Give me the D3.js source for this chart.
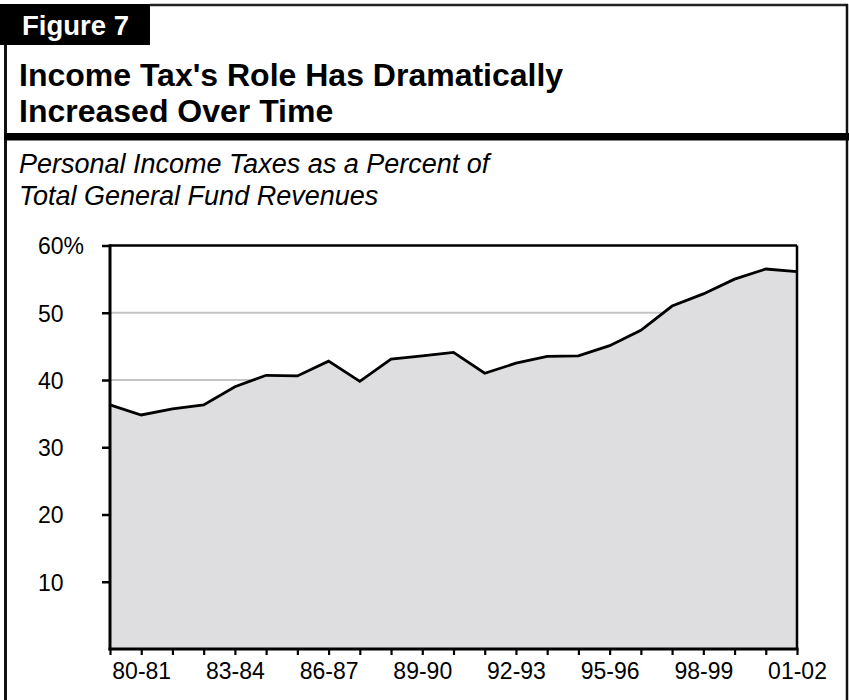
<!DOCTYPE html>
<html>
<head>
<meta charset="utf-8">
<script src="https://cdn.jsdelivr.net/npm/d3@7"></script>
<style>
  html, body { margin: 0; padding: 0; background: #fff; }
  svg { display: block; font-family: "Liberation Sans", Arial, Helvetica, sans-serif; }
</style>
</head>
<body>
<svg id="chart" width="849" height="700"></svg>
<script>
// Fiscal years, 1979-80 through 2001-02
const years = ["79-80","80-81","81-82","82-83","83-84","84-85","85-86","86-87","87-88","88-89",
               "89-90","90-91","91-92","92-93","93-94","94-95","95-96","96-97","97-98","98-99",
               "99-00","00-01","01-02"];
// Personal income taxes as a percent of total General Fund revenues
const pitShare = [36.3, 34.8, 35.7, 36.3, 39.0, 40.7, 40.6, 42.8, 39.8, 43.1,
                  43.6, 44.1, 41.0, 42.5, 43.5, 43.6, 45.1, 47.4, 51.0, 52.8,
                  55.0, 56.5, 56.1];
// Labelled years on the horizontal axis
const xTickLabels = ["80-81","83-84","86-87","89-90","92-93","95-96","98-99","01-02"];
// Vertical axis ticks
const yTicks = [10, 20, 30, 40, 50, 60];

const svg = d3.select("#chart");

// ---- Frame and heading ----
svg.append("line").attr("x1", 150).attr("x2", 848).attr("y1", 5).attr("y2", 5)
  .attr("stroke", "#222").attr("stroke-width", 2.5);
svg.append("line").attr("x1", 847).attr("x2", 847).attr("y1", 4).attr("y2", 700)
  .attr("stroke", "#111").attr("stroke-width", 2.5);
svg.append("line").attr("x1", 5.5).attr("x2", 5.5).attr("y1", 40).attr("y2", 700)
  .attr("stroke", "#111").attr("stroke-width", 3);
svg.append("rect").attr("x", 0).attr("y", 4).attr("width", 150).attr("height", 41).attr("fill", "#000");
svg.append("text").attr("x", 22).attr("y", 35).attr("fill", "#fff")
  .attr("font-size", 27.5).attr("font-weight", "bold").text("Figure 7");

const titleLines = ["Income Tax's Role Has Dramatically", "Increased Over Time"];
svg.append("g").selectAll("text").data(titleLines).join("text")
  .attr("x", 19).attr("y", (d, i) => 86 + i * 35.5)
  .attr("font-size", 32).attr("font-weight", "bold").attr("fill", "#000")
  .text(d => d);

svg.append("rect").attr("x", 4).attr("y", 133).attr("width", 845).attr("height", 7.5).attr("fill", "#000");

const subtitleLines = ["Personal Income Taxes as a Percent of", "Total General Fund Revenues"];
svg.append("g").selectAll("text").data(subtitleLines).join("text")
  .attr("x", 19).attr("y", (d, i) => 172.5 + i * 32)
  .attr("font-size", 27).attr("font-style", "italic").attr("fill", "#000")
  .text(d => d);

// ---- Plot ----
const x = d3.scalePoint().domain(years).range([110, 797]);
const y = d3.scaleLinear().domain([0, 60]).range([649, 245.5]);

// horizontal gridlines, covered by the shaded area below
svg.append("g").selectAll("line").data(yTicks.filter(t => t < 60)).join("line")
  .attr("x1", 110).attr("x2", 797)
  .attr("y1", d => y(d)).attr("y2", d => y(d))
  .attr("stroke", "#c4c4c4").attr("stroke-width", 2);

const area = d3.area()
  .x((d, i) => x(years[i]))
  .y0(y(0))
  .y1(d => y(d));
svg.append("path").datum(pitShare).attr("d", area).attr("fill", "#dedee0");

const line = d3.line()
  .x((d, i) => x(years[i]))
  .y(d => y(d));
svg.append("path").datum(pitShare).attr("d", line)
  .attr("fill", "none").attr("stroke", "#000").attr("stroke-width", 2.8)
  .attr("stroke-linejoin", "miter");

// top and right edges of the plot
svg.append("line").attr("x1", 110).attr("x2", 797).attr("y1", y(60)).attr("y2", y(60))
  .attr("stroke", "#000").attr("stroke-width", 2.5);
svg.append("line").attr("x1", 797).attr("x2", 797).attr("y1", y(60)).attr("y2", y(0))
  .attr("stroke", "#000").attr("stroke-width", 2.5);

// y axis
const yAxis = svg.append("g").attr("transform", "translate(110,0)")
  .call(d3.axisLeft(y).tickValues(yTicks).tickSize(8).tickPadding(0)
    .tickFormat(d => d === 60 ? "60%" : String(d)));
yAxis.select(".domain").attr("stroke", "#000").attr("stroke-width", 3)
  .attr("d", `M0,${y(60) - 1.2}V${y(0) + 1.5}`);
yAxis.selectAll(".tick line").attr("stroke", "#000").attr("stroke-width", 2.5);
yAxis.selectAll(".tick text")
  .attr("x", -72).attr("text-anchor", "start").attr("dy", "0.36em")
  .attr("font-size", 23).attr("font-family", "Liberation Sans, Arial, sans-serif").attr("fill", "#000");

// x axis
const xAxis = svg.append("g").attr("transform", `translate(0,${y(0)})`)
  .call(d3.axisBottom(x).tickSize(6).tickPadding(8)
    .tickFormat(d => xTickLabels.includes(d) ? d : ""));
xAxis.select(".domain").attr("stroke", "#000").attr("stroke-width", 3)
  .attr("d", `M108.5,0H798.5`);
xAxis.selectAll(".tick line").attr("stroke", "#000").attr("stroke-width", 2.2);
xAxis.selectAll(".tick text")
  .attr("font-size", 23).attr("font-family", "Liberation Sans, Arial, sans-serif").attr("fill", "#000");
</script>
</body>
</html>
